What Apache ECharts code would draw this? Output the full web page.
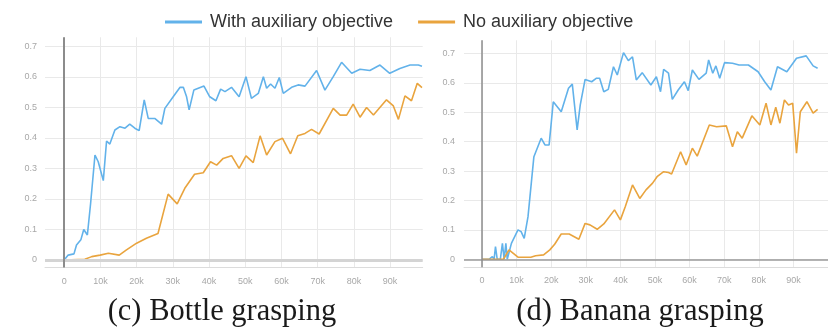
<!DOCTYPE html>
<html>
<head>
<meta charset="utf-8">
<script src="https://cdn.jsdelivr.net/npm/echarts@6/dist/echarts.min.js"></script>
<style>
  html, body { margin: 0; padding: 0; background: #fff; }
  #chart { width: 828px; height: 328px; }
</style>
</head>
<body>
<div id="chart"></div>
<script>
// Training curves, x in thousands of steps. Two panels share one legend.
const SERIES_NAMES = ["With auxiliary objective", "No auxiliary objective"];
const CAPTIONS = ["(c) Bottle grasping", "(d) Banana grasping"];

// (c) bottle, with auxiliary objective
const bottleWithX = [0, 1.1, 2.7, 3.4, 4.6, 5.4, 6.4, 7.3, 8.5, 9.4, 10.8, 11.7, 12.6, 14, 15.4, 16.8, 18.1, 19.5, 20.7, 22.1, 23.2, 25, 26.9, 27.8, 30.1, 32, 32.9, 33.8, 34.5, 35.8, 38.6, 40.2, 41.9, 43.2, 44.4, 46.2, 48.3, 50.2, 51.7, 53.6, 55, 55.9, 57, 58.2, 59.4, 60.5, 62.8, 64.6, 66.5, 69.7, 72, 74.3, 76.6, 79.4, 81.7, 84.4, 87.2, 89.9, 92.7, 95.5, 97.8, 98.8];
const bottleWithY = [0, 0.016, 0.02, 0.049, 0.066, 0.10, 0.082, 0.186, 0.344, 0.322, 0.26, 0.39, 0.38, 0.426, 0.437, 0.432, 0.445, 0.432, 0.424, 0.525, 0.464, 0.464, 0.445, 0.497, 0.535, 0.566, 0.566, 0.535, 0.492, 0.557, 0.570, 0.535, 0.522, 0.56, 0.552, 0.566, 0.535, 0.601, 0.53, 0.546, 0.601, 0.563, 0.577, 0.563, 0.598, 0.546, 0.566, 0.574, 0.570, 0.621, 0.557, 0.601, 0.648, 0.612, 0.625, 0.621, 0.639, 0.612, 0.628, 0.639, 0.639, 0.635];

// (c) bottle, no auxiliary objective
const bottleNoX = [0, 5.7, 7.6, 9.9, 12.2, 15.2, 17.2, 20, 22.7, 25.9, 28.7, 31.2, 33.3, 36, 38.4, 40.4, 42.1, 43.9, 46.2, 48.3, 50.2, 52.2, 54.1, 55.9, 58.2, 60.3, 62.5, 64.5, 66.5, 68.3, 70.4, 74.3, 76.2, 78, 79.8, 81.7, 83.5, 85.4, 89, 90.9, 92.3, 94.1, 95.9, 97.5, 98.8];
const bottleNoY = [0, 0.002, 0.011, 0.016, 0.022, 0.016, 0.033, 0.055, 0.071, 0.087, 0.216, 0.184, 0.235, 0.281, 0.286, 0.322, 0.311, 0.333, 0.342, 0.30, 0.341, 0.319, 0.407, 0.344, 0.388, 0.399, 0.348, 0.407, 0.415, 0.428, 0.413, 0.497, 0.475, 0.475, 0.511, 0.468, 0.50, 0.475, 0.525, 0.505, 0.461, 0.538, 0.522, 0.579, 0.565];

// (d) banana, with auxiliary objective
const bananaWithX = [0, 2, 3, 3.5, 3.9, 4.4, 5.3, 5.9, 6.4, 6.9, 7.3, 8.5, 10.4, 11.3, 12.2, 13.3, 15, 17.1, 18.2, 19.4, 20.6, 22.9, 25, 26.1, 27.5, 28.4, 29.8, 31.7, 33.1, 34, 35.2, 36.5, 38, 39.1, 40.9, 42.3, 43.5, 44.6, 46.3, 48.8, 50.4, 51.6, 52.5, 53.9, 55, 56.7, 58.5, 59.6, 60.8, 62.7, 64.8, 65.5, 66.7, 67.6, 68.7, 70.1, 72.4, 74.3, 77, 79.8, 81.7, 83.5, 85.4, 88.1, 90.9, 93.7, 95.7, 97];
const bananaWithY = [0, 0, 0.009, 0, 0.043, 0, 0, 0.054, 0, 0.054, 0, 0.054, 0.10, 0.094, 0.071, 0.145, 0.349, 0.412, 0.389, 0.389, 0.536, 0.502, 0.582, 0.596, 0.44, 0.525, 0.612, 0.604, 0.616, 0.616, 0.570, 0.578, 0.655, 0.627, 0.703, 0.676, 0.689, 0.61, 0.635, 0.593, 0.621, 0.570, 0.646, 0.633, 0.544, 0.576, 0.604, 0.574, 0.644, 0.612, 0.633, 0.678, 0.633, 0.658, 0.616, 0.669, 0.667, 0.661, 0.661, 0.638, 0.604, 0.576, 0.655, 0.638, 0.684, 0.692, 0.658, 0.65];

// (d) banana, no auxiliary objective
const bananaNoX = [0, 3.9, 6.2, 7.8, 10.4, 14.1, 15.5, 17.8, 19.6, 21, 22.9, 25.2, 28, 29.8, 31.2, 33.3, 35.2, 38.3, 40, 41.4, 43.5, 45.6, 47.4, 49.3, 50.6, 52.5, 53.9, 54.8, 57.4, 59, 60.8, 62.2, 65.7, 67.8, 70.6, 72.4, 73.8, 75.2, 78, 80.3, 82.1, 83.5, 84.9, 86.1, 87.4, 88.6, 89.8, 90.9, 92, 93.9, 95.7, 97];
const bananaNoY = [0, 0, 0, 0.032, 0.007, 0.007, 0.012, 0.015, 0.032, 0.051, 0.086, 0.086, 0.068, 0.122, 0.117, 0.102, 0.120, 0.168, 0.134, 0.179, 0.253, 0.207, 0.236, 0.259, 0.281, 0.298, 0.295, 0.290, 0.366, 0.321, 0.378, 0.351, 0.457, 0.451, 0.454, 0.383, 0.434, 0.412, 0.488, 0.457, 0.531, 0.457, 0.517, 0.463, 0.542, 0.525, 0.531, 0.361, 0.502, 0.536, 0.497, 0.51];

const BLUE = "#62b2ea";
const ORANGE = "#e9a43e";
const GRIDLINE = "#e9e9e9";
const LABEL = "#a8a8a8";
const SANS = "Liberation Sans, Arial, sans-serif";
const SERIF = "'Liberation Serif', 'Times New Roman', serif";

const pairs = (xs, ys) => xs.map((x, i) => [x, ys[i]]);

const xAxisFor = (gridIndex, min, max) => ({
  type: "value",
  gridIndex,
  min,
  max,
  splitNumber: 10,
  axisLine: { show: true, onZero: false, lineStyle: { color: "#dcdcdc", width: 1 } },
  axisTick: { show: false },
  axisLabel: {
    color: LABEL,
    fontSize: 9,
    fontFamily: SANS,
    margin: 9,
    showMinLabel: false,
    showMaxLabel: false,
    formatter: (v) => (v === 0 ? "0" : Math.round(v) + "k"),
  },
  splitLine: { show: true, showMinLine: false, showMaxLine: false, lineStyle: { color: GRIDLINE, width: 1 } },
});

const yAxisFor = (gridIndex, min, max, margin) => ({
  type: "value",
  gridIndex,
  min,
  max,
  splitNumber: 7,
  axisLine: { show: false },
  axisTick: { show: false },
  axisLabel: {
    color: LABEL,
    fontSize: 9,
    fontFamily: SANS,
    margin,
    showMinLabel: false,
    showMaxLabel: false,
    formatter: (v) => (Math.abs(v) < 1e-9 ? "0" : v.toFixed(1)),
  },
  splitLine: { show: true, showMinLine: false, showMaxLine: false, lineStyle: { color: GRIDLINE, width: 1 } },
});

const curve = (name, color, axis, data) => ({
  name,
  type: "line",
  xAxisIndex: axis,
  yAxisIndex: axis,
  data,
  showSymbol: false,
  symbol: "none",
  z: 3,
  lineStyle: { color, width: 1.6 },
  itemStyle: { color },
});

// zero lines of each panel, drawn beneath the curves
const zeroLines = (axis, hColor, hWidth, vColor, vWidth) => ({
  type: "line",
  xAxisIndex: axis,
  yAxisIndex: axis,
  data: [],
  z: 1,
  silent: true,
  markLine: {
    silent: true,
    symbol: "none",
    label: { show: false },
    animation: false,
    data: [
      { yAxis: 0, lineStyle: { color: hColor, width: hWidth, type: "solid" } },
      { xAxis: 0, lineStyle: { color: vColor, width: vWidth, type: "solid" } },
    ],
  },
});

const caption = (text, x) => ({
  type: "text",
  x,
  y: 311.5,
  style: { text, fill: "#1a1a1a", font: "30.5px " + SERIF, textAlign: "center", textVerticalAlign: "middle" },
});

const chart = echarts.init(document.getElementById("chart"), null, { renderer: "canvas" });
chart.setOption({
  animation: false,
  backgroundColor: "#fff",
  legend: {
    data: SERIES_NAMES,
    left: 160,
    top: 8,
    icon: "rect",
    itemWidth: 37,
    itemHeight: 3,
    itemGap: 25,
    textStyle: { color: "#333", fontSize: 18, fontFamily: SANS, padding: [0, 0, 0, 3] },
  },
  grid: [
    { left: 45, top: 37.3, width: 377.7, height: 230.3 },
    { left: 464, top: 40.3, width: 378.7, height: 226.9 },
  ],
  xAxis: [xAxisFor(0, -5.3, 99), xAxisFor(1, -5.2, 100)],
  yAxis: [yAxisFor(0, -0.025, 0.73, 8), yAxisFor(1, -0.027, 0.745, 9)],
  graphic: [caption(CAPTIONS[0], 222), caption(CAPTIONS[1], 640)],
  series: [
    zeroLines(0, "#d4d4d4", 3, "#8c8c8c", 2),
    zeroLines(1, "#9a9a9a", 1.5, "#8c8c8c", 1.5),
    curve(SERIES_NAMES[0], BLUE, 0, pairs(bottleWithX, bottleWithY)),
    curve(SERIES_NAMES[1], ORANGE, 0, pairs(bottleNoX, bottleNoY)),
    curve(SERIES_NAMES[0], BLUE, 1, pairs(bananaWithX, bananaWithY)),
    curve(SERIES_NAMES[1], ORANGE, 1, pairs(bananaNoX, bananaNoY)),
  ],
});
</script>
</body>
</html>
